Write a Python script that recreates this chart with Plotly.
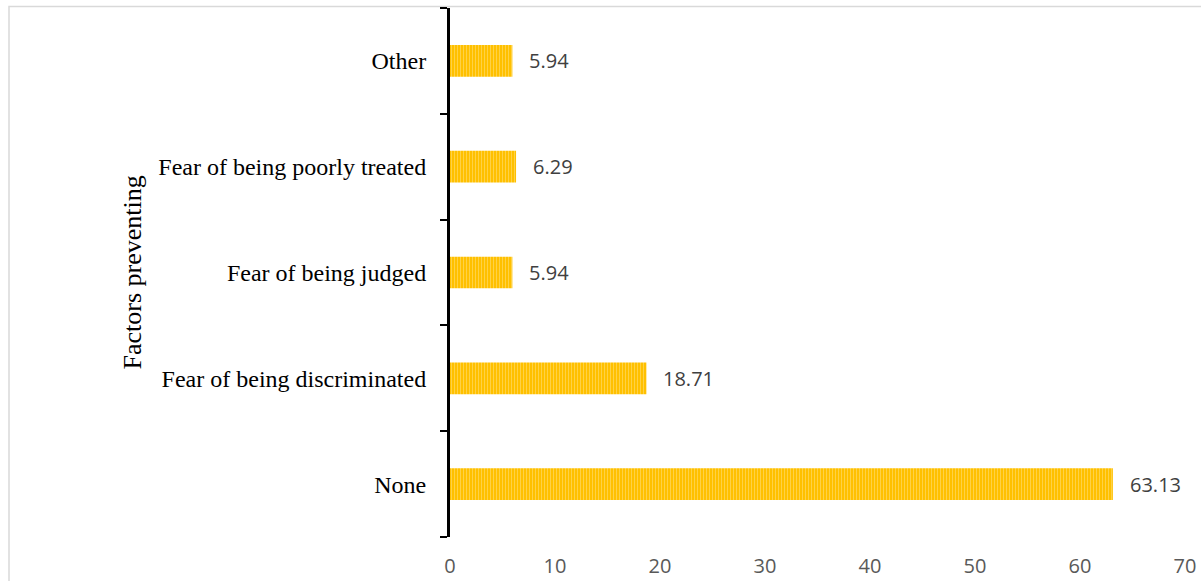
import plotly.graph_objects as go

categories = ["None", "Fear of being discriminated", "Fear of being judged",
              "Fear of being poorly treated", "Other"]
values = [63.13, 18.71, 5.94, 6.29, 5.94]
value_labels = ["63.13", "18.71", "5.94", "6.29", "5.94"]
x_ticks = [0, 10, 20, 30, 40, 50, 60, 70]

W, H = 1201, 581
L, R, T, B = 450, 16, 8, 44
pw, ph = W - L - R, H - T - B

fig = go.Figure()
fig.add_trace(go.Bar(
    y=categories, x=values, orientation="h",
    marker=dict(
        color="#FFC000",
        line=dict(width=0),
        pattern=dict(shape="|", bgcolor="#FFC000", fgcolor="#FFE38A",
                     size=3, solidity=0.35, fillmode="overlay"),
    ),
    hoverinfo="skip",
))

for c, v, t in zip(categories, values, value_labels):
    fig.add_annotation(x=v, y=c, xref="x", yref="y", text=t, showarrow=False,
                       xanchor="left", yanchor="middle", xshift=15,
                       font=dict(family="Open Sans", size=20, color="#404040"))

# axis title
fig.add_annotation(x=(132 - L) / pw, y=0.5, xref="paper", yref="paper",
                   text="Factors preventing", textangle=-90, showarrow=False,
                   xanchor="center", yanchor="middle",
                   font=dict(family="Liberation Serif", size=26, color="#000000"))

# chart frame
fig.add_shape(type="rect", xref="paper", yref="paper",
              x0=(9 - L) / pw, x1=(W + 10 - L) / pw,
              y0=-(H + 10 - T - ph) / ph, y1=1 + (T - 6.5) / ph,
              line=dict(color="#D9D9D9", width=1.5), fillcolor="rgba(0,0,0,0)",
              layer="below")

fig.update_layout(
    width=W, height=H,
    margin=dict(l=L, r=R, t=T, b=B, autoexpand=False),
    plot_bgcolor="white", paper_bgcolor="white",
    bargap=0.7, showlegend=False,
    xaxis=dict(range=[0, 70], tickvals=x_ticks, ticktext=[str(v) for v in x_ticks],
               showgrid=False, zeroline=False, showline=False,
               ticks="outside", ticklen=11, tickcolor="rgba(0,0,0,0)",
               tickfont=dict(family="Open Sans", size=20, color="#595959")),
    yaxis=dict(categoryorder="array", categoryarray=categories,
               showgrid=False, zeroline=False,
               showline=True, linecolor="#000000", linewidth=3,
               ticks="outside", tickson="boundaries", ticklen=7, tickwidth=2,
               tickcolor="#000000", ticklabelstandoff=16,
               tickfont=dict(family="Liberation Serif", size=24, color="#000000")),
)

fig.write_html("out.html")
